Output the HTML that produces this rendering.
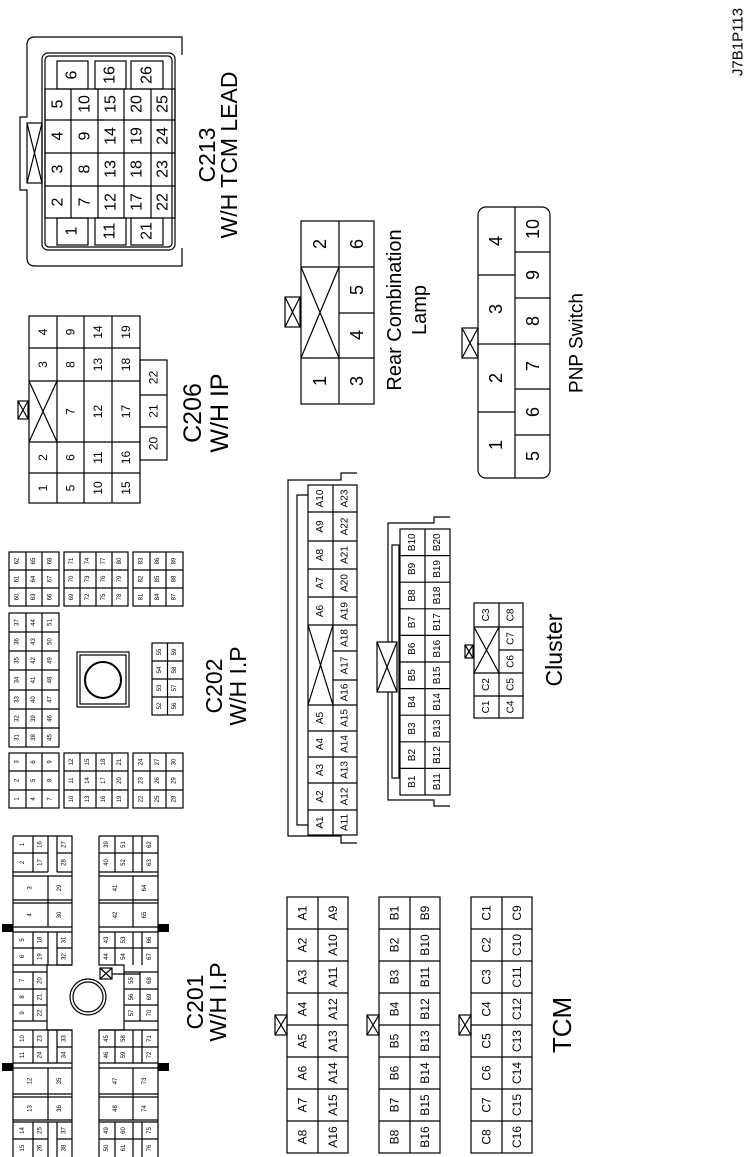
<!DOCTYPE html>
<html><head><meta charset="utf-8"><style>
html,body{margin:0;padding:0;background:#fff;}
svg{display:block;}
text{font-family:"Liberation Sans",Arial,sans-serif;text-anchor:middle;dominant-baseline:central;fill:#000;}
.c rect,.c path,.c line,.c circle{fill:none;stroke:#000;stroke-width:1.2;}
.s text{font-size:6px;}
.m text{font-size:12px;}
.l text{font-size:16px;}
.L{font-size:23px;}
</style></head><body>
<svg width="750" height="1157" viewBox="0 0 750 1157" xmlns="http://www.w3.org/2000/svg">
<g class="c">

<!-- C213 -->
<path d="M182,55 V37 H35 Q27,37 27,45 V117 H20 V190 H27 V258 Q27,266 35,266 H182 V248"/>
<rect x="42" y="53" width="133" height="197" rx="6"/>
<rect x="45" y="56" width="127" height="191" rx="4"/>
<rect x="57" y="61" width="31" height="28"/><rect x="95" y="61" width="31" height="28"/><rect x="131" y="61" width="32" height="28"/>
<rect x="57" y="218" width="31" height="27"/><rect x="95" y="218" width="31" height="27"/><rect x="131" y="218" width="32" height="27"/>
<rect x="45" y="89" width="130" height="129"/>
<path d="M71,89V218M98,89V218M124,89V218M151,89V218M45,120H175M45,153H175M45,186H175"/>
<rect x="27" y="123" width="15" height="60"/><path d="M27,123L42,183M42,123L27,183"/>

<!-- C206 -->
<rect x="29" y="316" width="111" height="187"/>
<path d="M29,348H140M29,381H140M84,442H140M29,442H57M29,473H140M57,316V503M84,316V503M112,316V503M57,442H84"/>
<path d="M29,381L57,442M57,381L29,442"/>
<rect x="140" y="360" width="27" height="100"/><path d="M140,395H167M140,427H167"/>
<rect x="18" y="401" width="10" height="18"/><path d="M18,401L28,419M28,401L18,419"/>

<!-- Rear Combination Lamp -->
<rect x="301" y="221" width="73" height="183"/>
<path d="M339,221V404M301,267H374M339,313H374M301,358H374M301,267L339,358M339,267L301,358"/>
<rect x="285" y="297" width="15" height="30"/><path d="M285,297L300,327M300,297L285,327"/>

<!-- PNP -->
<rect x="478" y="207" width="72" height="271" rx="8"/>
<path d="M515,207V478M478,275H515M478,344H550M478,412H515M515,252H550M515,298H550M515,389H550M515,435H550"/>
<rect x="462" y="328" width="16" height="30"/><path d="M462,328L478,358M478,328L462,358"/>

<!-- C202 -->
<rect x="9" y="753" width="50" height="55"/><path d="M26,753V808M42,753V808M9,771H59M9,790H59"/>
<rect x="64" y="753" width="64" height="55"/><path d="M80,753V808M96,753V808M112,753V808M64,771H128M64,790H128"/>
<rect x="133" y="753" width="50" height="55"/><path d="M150,753V808M166,753V808M133,771H183M133,790H183"/>
<rect x="9" y="613" width="50" height="134"/><path d="M26,613V747M42,613V747M9,632H59M9,651H59M9,670H59M9,690H59M9,709H59M9,728H59"/>
<rect x="77" y="652" width="52" height="55"/><rect x="80" y="655" width="46" height="49"/>
<circle cx="103" cy="680" r="18" style="stroke-width:2"/>
<rect x="152" y="643" width="31" height="72"/><path d="M167.5,643V715M152,661H183M152,679H183M152,697H183"/>
<rect x="9" y="552" width="50" height="54"/><path d="M26,552V606M42,552V606M9,570H59M9,588H59"/>
<rect x="64" y="552" width="64" height="54"/><path d="M80,552V606M96,552V606M112,552V606M64,570H128M64,588H128"/>
<rect x="133" y="552" width="50" height="54"/><path d="M150,552V606M166,552V606M133,570H183M133,588H183"/>

<!-- Cluster A -->
<path d="M357,473H341V480H288V836H341V843H357"/>
<path d="M308,495H297V825H308"/>
<rect x="308" y="485" width="49" height="350"/>
<path d="M333,485V835M308,512H357M308,541H357M308,569H357M308,597H357M308,625H357M333,651H357M333,680H357M308,705H357M308,731H357M308,757H357M308,783H357M308,810H357M308,625L333,705M333,625L308,705"/>
<!-- Cluster B -->
<path d="M450,517H434V523H388V800H434V806H450"/>
<rect x="392" y="545" width="7" height="233"/>
<rect x="400" y="529" width="50" height="266"/>
<path d="M425,529V795M400,555.6H450M400,582.2H450M400,608.8H450M400,635.4H450M400,662H450M400,688.6H450M400,715.2H450M400,741.8H450M400,768.4H450"/>
<rect x="377" y="642" width="20" height="50" style="fill:#fff"/><path d="M377,642L397,692M397,642L377,692"/>
<!-- Cluster C -->
<rect x="474" y="603" width="49" height="115"/>
<path d="M499,603V718M474,627H523M499,650H523M474,673H523M474,696H523M474,627L499,673M499,627L474,673"/>
<rect x="465" y="645" width="8" height="13"/><path d="M465,645L473,658M473,645L465,658"/>

<!-- TCM -->
<rect x="287" y="897" width="61" height="256"/><rect x="379" y="897" width="61" height="256"/><rect x="471" y="897" width="61" height="256"/>
<path d="M318,897V1153M410,897V1153M502,897V1153"/>
<path d="M287,929H348M287,961H348M287,993H348M287,1025H348M287,1057H348M287,1089H348M287,1121H348"/>
<path d="M379,929H440M379,961H440M379,993H440M379,1025H440M379,1057H440M379,1089H440M379,1121H440"/>
<path d="M471,929H532M471,961H532M471,993H532M471,1025H532M471,1057H532M471,1089H532M471,1121H532"/>
<rect x="275" y="1015" width="12" height="20"/><path d="M275,1015L287,1035M287,1015L275,1035"/>
<rect x="367" y="1015" width="12" height="20"/><path d="M367,1015L379,1035M379,1015L367,1035"/>
<rect x="459" y="1015" width="12" height="20"/><path d="M459,1015L471,1035M471,1015L459,1035"/>

<!-- C201 -->
<path d="M13,836H72V965H47V1030H72V1157M13,836V1157M99,836H158V1157M99,836V965H124V1030H99V1157"/>
<path d="M13,853H48M57,853H72M13,872H48M57,872H72M13,876H72M13,900H72M13,903H72M13,927H72M13,932H72M13,948H48M57,948H72M13,965H48M57,965H72M13,972H47M13,989H47M13,1005H47M13,1021H47M13,1030H72M13,1047H48M57,1047H72M13,1063H72M13,1068H72M13,1094H72M13,1097H72M13,1120H72M13,1122H72M13,1139H48M57,1139H72"/>
<path d="M33,836V872M48,836V872M57,836V872M48,876V927M33,932V965M48,932V965M57,932V965M33,972V1021M33,1030V1063M48,1030V1063M57,1030V1063M48,1068V1120M33,1122V1157M48,1122V1157M57,1122V1157"/>
<path d="M99,853H158M99,872H158M99,876H158M99,900H158M99,903H158M99,927H158M99,932H158M99,948H158M124,972H158M124,989H158M124,1005H158M124,1021H158M99,1030H158M99,1047H158M99,1063H158M99,1068H158M99,1094H158M99,1097H158M99,1120H158M99,1122H158M99,1139H158"/>
<path d="M115,836V872M133,836V872M142,836V872M133,876V927M115,932V965M133,932V965M142,932V965M140,972V1021M115,1030V1063M133,1030V1063M142,1030V1063M133,1068V1120M115,1122V1157M133,1122V1157M142,1122V1157"/>
<circle cx="88" cy="997" r="18"/><circle cx="88" cy="997" r="15"/>
<rect x="100" y="968" width="12" height="11"/><path d="M100,968L112,979M112,968L100,979M112,974H140"/>
</g>
<g fill="#000">
<rect x="2" y="924" width="11" height="8"/><rect x="158" y="924" width="11" height="8"/>
<rect x="2" y="1063" width="11" height="8"/><rect x="158" y="1063" width="11" height="8"/>
</g>

<!-- LABELS -->
<text class="L" x="207" y="155" transform="rotate(-90 207 155)">C213</text>
<text class="L" x="229" y="155" transform="rotate(-90 229 155)">W/H TCM LEAD</text>
<text class="L" x="193" y="413" transform="rotate(-90 193 413)" style="font-size:25px">C206</text>
<text class="L" x="220" y="413" transform="rotate(-90 220 413)" style="font-size:25px">W/H IP</text>
<text class="L" x="395" y="310" transform="rotate(-90 395 310)" style="font-size:20px">Rear Combination</text>
<text class="L" x="420" y="310" transform="rotate(-90 420 310)" style="font-size:20px">Lamp</text>
<text class="L" x="577" y="343" transform="rotate(-90 577 343)" style="font-size:19px">PNP Switch</text>
<text class="L" x="214" y="686" transform="rotate(-90 214 686)">C202</text>
<text class="L" x="238" y="686" transform="rotate(-90 238 686)">W/H I.P</text>
<text class="L" x="195" y="1002" transform="rotate(-90 195 1002)">C201</text>
<text class="L" x="218" y="1002" transform="rotate(-90 218 1002)">W/H I.P</text>
<text class="L" x="554" y="650" transform="rotate(-90 554 650)">Cluster</text>
<text class="L" x="562" y="1025" transform="rotate(-90 562 1025)" style="font-size:26px">TCM</text>
<text x="738" y="42" transform="rotate(-90 738 42)" style="font-size:15px">J7B1P113</text>

<g class="l">
<!-- C213 -->
<text x="72" y="75" transform="rotate(-90 72 75)">6</text><text x="110" y="75" transform="rotate(-90 110 75)">16</text><text x="147" y="75" transform="rotate(-90 147 75)">26</text>
<text x="72" y="231" transform="rotate(-90 72 231)">1</text><text x="110" y="231" transform="rotate(-90 110 231)">11</text><text x="147" y="231" transform="rotate(-90 147 231)">21</text>
<text x="58" y="104" transform="rotate(-90 58 104)">5</text><text x="85" y="104" transform="rotate(-90 85 104)">10</text><text x="111" y="104" transform="rotate(-90 111 104)">15</text><text x="137" y="104" transform="rotate(-90 137 104)">20</text><text x="163" y="104" transform="rotate(-90 163 104)">25</text>
<text x="58" y="136" transform="rotate(-90 58 136)">4</text><text x="85" y="136" transform="rotate(-90 85 136)">9</text><text x="111" y="136" transform="rotate(-90 111 136)">14</text><text x="137" y="136" transform="rotate(-90 137 136)">19</text><text x="163" y="136" transform="rotate(-90 163 136)">24</text>
<text x="58" y="169" transform="rotate(-90 58 169)">3</text><text x="85" y="169" transform="rotate(-90 85 169)">8</text><text x="111" y="169" transform="rotate(-90 111 169)">13</text><text x="137" y="169" transform="rotate(-90 137 169)">18</text><text x="163" y="169" transform="rotate(-90 163 169)">23</text>
<text x="58" y="202" transform="rotate(-90 58 202)">2</text><text x="85" y="202" transform="rotate(-90 85 202)">7</text><text x="111" y="202" transform="rotate(-90 111 202)">12</text><text x="137" y="202" transform="rotate(-90 137 202)">17</text><text x="163" y="202" transform="rotate(-90 163 202)">22</text>
<!-- Rear -->
<text x="320" y="244" transform="rotate(-90 320 244)" style="font-size:18px">2</text><text x="357" y="244" transform="rotate(-90 357 244)" style="font-size:18px">6</text>
<text x="357" y="290" transform="rotate(-90 357 290)" style="font-size:18px">5</text><text x="357" y="335" transform="rotate(-90 357 335)" style="font-size:18px">4</text>
<text x="320" y="381" transform="rotate(-90 320 381)" style="font-size:18px">1</text><text x="357" y="381" transform="rotate(-90 357 381)" style="font-size:18px">3</text>
<!-- PNP -->
<text x="496" y="241" transform="rotate(-90 496 241)" style="font-size:18px">4</text><text x="496" y="309" transform="rotate(-90 496 309)" style="font-size:18px">3</text><text x="496" y="378" transform="rotate(-90 496 378)" style="font-size:18px">2</text><text x="496" y="445" transform="rotate(-90 496 445)" style="font-size:18px">1</text>
<text x="533" y="229" transform="rotate(-90 533 229)" style="font-size:18px">10</text><text x="533" y="275" transform="rotate(-90 533 275)" style="font-size:18px">9</text><text x="533" y="321" transform="rotate(-90 533 321)" style="font-size:18px">8</text><text x="533" y="366" transform="rotate(-90 533 366)" style="font-size:18px">7</text><text x="533" y="412" transform="rotate(-90 533 412)" style="font-size:18px">6</text><text x="533" y="456" transform="rotate(-90 533 456)" style="font-size:18px">5</text>
</g>
<g class="m">
<!-- C206 -->
<text x="43" y="332" transform="rotate(-90 43 332)">4</text><text x="70.5" y="332" transform="rotate(-90 70.5 332)">9</text><text x="98" y="332" transform="rotate(-90 98 332)">14</text><text x="126" y="332" transform="rotate(-90 126 332)">19</text>
<text x="43" y="364.5" transform="rotate(-90 43 364.5)">3</text><text x="70.5" y="364.5" transform="rotate(-90 70.5 364.5)">8</text><text x="98" y="364.5" transform="rotate(-90 98 364.5)">13</text><text x="126" y="364.5" transform="rotate(-90 126 364.5)">18</text>
<text x="70.5" y="411.5" transform="rotate(-90 70.5 411.5)">7</text><text x="98" y="411.5" transform="rotate(-90 98 411.5)">12</text><text x="126" y="411.5" transform="rotate(-90 126 411.5)">17</text>
<text x="43" y="457.5" transform="rotate(-90 43 457.5)">2</text><text x="70.5" y="457.5" transform="rotate(-90 70.5 457.5)">6</text><text x="98" y="457.5" transform="rotate(-90 98 457.5)">11</text><text x="126" y="457.5" transform="rotate(-90 126 457.5)">16</text>
<text x="43" y="488" transform="rotate(-90 43 488)">1</text><text x="70.5" y="488" transform="rotate(-90 70.5 488)">5</text><text x="98" y="488" transform="rotate(-90 98 488)">10</text><text x="126" y="488" transform="rotate(-90 126 488)">15</text>
<text x="153.5" y="377.5" transform="rotate(-90 153.5 377.5)">22</text><text x="153.5" y="411" transform="rotate(-90 153.5 411)">21</text><text x="153.5" y="443.5" transform="rotate(-90 153.5 443.5)">20</text>
<!-- TCM A -->
<text x="302.5" y="913" transform="rotate(-90 302.5 913)">A1</text><text x="302.5" y="945" transform="rotate(-90 302.5 945)">A2</text><text x="302.5" y="977" transform="rotate(-90 302.5 977)">A3</text><text x="302.5" y="1009" transform="rotate(-90 302.5 1009)">A4</text><text x="302.5" y="1041" transform="rotate(-90 302.5 1041)">A5</text><text x="302.5" y="1073" transform="rotate(-90 302.5 1073)">A6</text><text x="302.5" y="1105" transform="rotate(-90 302.5 1105)">A7</text><text x="302.5" y="1137" transform="rotate(-90 302.5 1137)">A8</text>
<text x="333" y="913" transform="rotate(-90 333 913)">A9</text><text x="333" y="945" transform="rotate(-90 333 945)">A10</text><text x="333" y="977" transform="rotate(-90 333 977)">A11</text><text x="333" y="1009" transform="rotate(-90 333 1009)">A12</text><text x="333" y="1041" transform="rotate(-90 333 1041)">A13</text><text x="333" y="1073" transform="rotate(-90 333 1073)">A14</text><text x="333" y="1105" transform="rotate(-90 333 1105)">A15</text><text x="333" y="1137" transform="rotate(-90 333 1137)">A16</text>
<!-- TCM B -->
<text x="394.5" y="913" transform="rotate(-90 394.5 913)">B1</text><text x="394.5" y="945" transform="rotate(-90 394.5 945)">B2</text><text x="394.5" y="977" transform="rotate(-90 394.5 977)">B3</text><text x="394.5" y="1009" transform="rotate(-90 394.5 1009)">B4</text><text x="394.5" y="1041" transform="rotate(-90 394.5 1041)">B5</text><text x="394.5" y="1073" transform="rotate(-90 394.5 1073)">B6</text><text x="394.5" y="1105" transform="rotate(-90 394.5 1105)">B7</text><text x="394.5" y="1137" transform="rotate(-90 394.5 1137)">B8</text>
<text x="425" y="913" transform="rotate(-90 425 913)">B9</text><text x="425" y="945" transform="rotate(-90 425 945)">B10</text><text x="425" y="977" transform="rotate(-90 425 977)">B11</text><text x="425" y="1009" transform="rotate(-90 425 1009)">B12</text><text x="425" y="1041" transform="rotate(-90 425 1041)">B13</text><text x="425" y="1073" transform="rotate(-90 425 1073)">B14</text><text x="425" y="1105" transform="rotate(-90 425 1105)">B15</text><text x="425" y="1137" transform="rotate(-90 425 1137)">B16</text>
<!-- TCM C -->
<text x="486.5" y="913" transform="rotate(-90 486.5 913)">C1</text><text x="486.5" y="945" transform="rotate(-90 486.5 945)">C2</text><text x="486.5" y="977" transform="rotate(-90 486.5 977)">C3</text><text x="486.5" y="1009" transform="rotate(-90 486.5 1009)">C4</text><text x="486.5" y="1041" transform="rotate(-90 486.5 1041)">C5</text><text x="486.5" y="1073" transform="rotate(-90 486.5 1073)">C6</text><text x="486.5" y="1105" transform="rotate(-90 486.5 1105)">C7</text><text x="486.5" y="1137" transform="rotate(-90 486.5 1137)">C8</text>
<text x="517" y="913" transform="rotate(-90 517 913)">C9</text><text x="517" y="945" transform="rotate(-90 517 945)">C10</text><text x="517" y="977" transform="rotate(-90 517 977)">C11</text><text x="517" y="1009" transform="rotate(-90 517 1009)">C12</text><text x="517" y="1041" transform="rotate(-90 517 1041)">C13</text><text x="517" y="1073" transform="rotate(-90 517 1073)">C14</text><text x="517" y="1105" transform="rotate(-90 517 1105)">C15</text><text x="517" y="1137" transform="rotate(-90 517 1137)">C16</text>
</g>
<g style="font-size:10px">
<!-- Cluster A -->
<text x="320.5" y="498.5" transform="rotate(-90 320.5 498.5)">A10</text><text x="320.5" y="526.5" transform="rotate(-90 320.5 526.5)">A9</text><text x="320.5" y="555" transform="rotate(-90 320.5 555)">A8</text><text x="320.5" y="583" transform="rotate(-90 320.5 583)">A7</text><text x="320.5" y="611" transform="rotate(-90 320.5 611)">A6</text><text x="320.5" y="718" transform="rotate(-90 320.5 718)">A5</text><text x="320.5" y="744" transform="rotate(-90 320.5 744)">A4</text><text x="320.5" y="770" transform="rotate(-90 320.5 770)">A3</text><text x="320.5" y="796.5" transform="rotate(-90 320.5 796.5)">A2</text><text x="320.5" y="822.5" transform="rotate(-90 320.5 822.5)">A1</text>
<text x="345" y="498.5" transform="rotate(-90 345 498.5)">A23</text><text x="345" y="526.5" transform="rotate(-90 345 526.5)">A22</text><text x="345" y="555" transform="rotate(-90 345 555)">A21</text><text x="345" y="583" transform="rotate(-90 345 583)">A20</text><text x="345" y="611" transform="rotate(-90 345 611)">A19</text><text x="345" y="638" transform="rotate(-90 345 638)">A18</text><text x="345" y="665.5" transform="rotate(-90 345 665.5)">A17</text><text x="345" y="692.5" transform="rotate(-90 345 692.5)">A16</text><text x="345" y="718" transform="rotate(-90 345 718)">A15</text><text x="345" y="744" transform="rotate(-90 345 744)">A14</text><text x="345" y="770" transform="rotate(-90 345 770)">A13</text><text x="345" y="796.5" transform="rotate(-90 345 796.5)">A12</text><text x="345" y="822.5" transform="rotate(-90 345 822.5)">A11</text>
<!-- Cluster B -->
<text x="412.5" y="542.3" transform="rotate(-90 412.5 542.3)">B10</text><text x="412.5" y="568.9" transform="rotate(-90 412.5 568.9)">B9</text><text x="412.5" y="595.5" transform="rotate(-90 412.5 595.5)">B8</text><text x="412.5" y="622.1" transform="rotate(-90 412.5 622.1)">B7</text><text x="412.5" y="648.7" transform="rotate(-90 412.5 648.7)">B6</text><text x="412.5" y="675.3" transform="rotate(-90 412.5 675.3)">B5</text><text x="412.5" y="701.9" transform="rotate(-90 412.5 701.9)">B4</text><text x="412.5" y="728.5" transform="rotate(-90 412.5 728.5)">B3</text><text x="412.5" y="755.1" transform="rotate(-90 412.5 755.1)">B2</text><text x="412.5" y="781.7" transform="rotate(-90 412.5 781.7)">B1</text>
<text x="437.5" y="542.3" transform="rotate(-90 437.5 542.3)">B20</text><text x="437.5" y="568.9" transform="rotate(-90 437.5 568.9)">B19</text><text x="437.5" y="595.5" transform="rotate(-90 437.5 595.5)">B18</text><text x="437.5" y="622.1" transform="rotate(-90 437.5 622.1)">B17</text><text x="437.5" y="648.7" transform="rotate(-90 437.5 648.7)">B16</text><text x="437.5" y="675.3" transform="rotate(-90 437.5 675.3)">B15</text><text x="437.5" y="701.9" transform="rotate(-90 437.5 701.9)">B14</text><text x="437.5" y="728.5" transform="rotate(-90 437.5 728.5)">B13</text><text x="437.5" y="755.1" transform="rotate(-90 437.5 755.1)">B12</text><text x="437.5" y="781.7" transform="rotate(-90 437.5 781.7)">B11</text>
<!-- Cluster C -->
<text x="486.5" y="615" transform="rotate(-90 486.5 615)">C3</text><text x="486.5" y="684.5" transform="rotate(-90 486.5 684.5)">C2</text><text x="486.5" y="707" transform="rotate(-90 486.5 707)">C1</text>
<text x="511" y="615" transform="rotate(-90 511 615)">C8</text><text x="511" y="638.5" transform="rotate(-90 511 638.5)">C7</text><text x="511" y="661.5" transform="rotate(-90 511 661.5)">C6</text><text x="511" y="684.5" transform="rotate(-90 511 684.5)">C5</text><text x="511" y="707" transform="rotate(-90 511 707)">C4</text>
</g>
<g class="s">
<!-- C202 -->
<text x="17.5" y="762" transform="rotate(-90 17.5 762)">3</text><text x="17.5" y="780.5" transform="rotate(-90 17.5 780.5)">2</text><text x="17.5" y="799" transform="rotate(-90 17.5 799)">1</text>
<text x="34" y="762" transform="rotate(-90 34 762)">6</text><text x="34" y="780.5" transform="rotate(-90 34 780.5)">5</text><text x="34" y="799" transform="rotate(-90 34 799)">4</text>
<text x="50.5" y="762" transform="rotate(-90 50.5 762)">9</text><text x="50.5" y="780.5" transform="rotate(-90 50.5 780.5)">8</text><text x="50.5" y="799" transform="rotate(-90 50.5 799)">7</text>
<text x="72" y="762" transform="rotate(-90 72 762)">12</text><text x="72" y="780.5" transform="rotate(-90 72 780.5)">11</text><text x="72" y="799" transform="rotate(-90 72 799)">10</text>
<text x="88" y="762" transform="rotate(-90 88 762)">15</text><text x="88" y="780.5" transform="rotate(-90 88 780.5)">14</text><text x="88" y="799" transform="rotate(-90 88 799)">13</text>
<text x="104" y="762" transform="rotate(-90 104 762)">18</text><text x="104" y="780.5" transform="rotate(-90 104 780.5)">17</text><text x="104" y="799" transform="rotate(-90 104 799)">16</text>
<text x="120" y="762" transform="rotate(-90 120 762)">21</text><text x="120" y="780.5" transform="rotate(-90 120 780.5)">20</text><text x="120" y="799" transform="rotate(-90 120 799)">19</text>
<text x="141.5" y="762" transform="rotate(-90 141.5 762)">24</text><text x="141.5" y="780.5" transform="rotate(-90 141.5 780.5)">23</text><text x="141.5" y="799" transform="rotate(-90 141.5 799)">22</text>
<text x="158" y="762" transform="rotate(-90 158 762)">27</text><text x="158" y="780.5" transform="rotate(-90 158 780.5)">26</text><text x="158" y="799" transform="rotate(-90 158 799)">25</text>
<text x="174.5" y="762" transform="rotate(-90 174.5 762)">30</text><text x="174.5" y="780.5" transform="rotate(-90 174.5 780.5)">29</text><text x="174.5" y="799" transform="rotate(-90 174.5 799)">28</text>
<text x="17.5" y="622.5" transform="rotate(-90 17.5 622.5)">37</text><text x="17.5" y="641.5" transform="rotate(-90 17.5 641.5)">36</text><text x="17.5" y="660.5" transform="rotate(-90 17.5 660.5)">35</text><text x="17.5" y="680" transform="rotate(-90 17.5 680)">34</text><text x="17.5" y="699.5" transform="rotate(-90 17.5 699.5)">33</text><text x="17.5" y="718.5" transform="rotate(-90 17.5 718.5)">32</text><text x="17.5" y="737.5" transform="rotate(-90 17.5 737.5)">31</text>
<text x="34" y="622.5" transform="rotate(-90 34 622.5)">44</text><text x="34" y="641.5" transform="rotate(-90 34 641.5)">43</text><text x="34" y="660.5" transform="rotate(-90 34 660.5)">42</text><text x="34" y="680" transform="rotate(-90 34 680)">41</text><text x="34" y="699.5" transform="rotate(-90 34 699.5)">40</text><text x="34" y="718.5" transform="rotate(-90 34 718.5)">39</text><text x="34" y="737.5" transform="rotate(-90 34 737.5)">38</text>
<text x="50.5" y="622.5" transform="rotate(-90 50.5 622.5)">51</text><text x="50.5" y="641.5" transform="rotate(-90 50.5 641.5)">50</text><text x="50.5" y="660.5" transform="rotate(-90 50.5 660.5)">49</text><text x="50.5" y="680" transform="rotate(-90 50.5 680)">48</text><text x="50.5" y="699.5" transform="rotate(-90 50.5 699.5)">47</text><text x="50.5" y="718.5" transform="rotate(-90 50.5 718.5)">46</text><text x="50.5" y="737.5" transform="rotate(-90 50.5 737.5)">45</text>
<text x="160" y="652" transform="rotate(-90 160 652)">55</text><text x="160" y="670" transform="rotate(-90 160 670)">54</text><text x="160" y="688" transform="rotate(-90 160 688)">53</text><text x="160" y="706" transform="rotate(-90 160 706)">52</text>
<text x="175" y="652" transform="rotate(-90 175 652)">59</text><text x="175" y="670" transform="rotate(-90 175 670)">58</text><text x="175" y="688" transform="rotate(-90 175 688)">57</text><text x="175" y="706" transform="rotate(-90 175 706)">56</text>
<text x="17.5" y="561" transform="rotate(-90 17.5 561)">62</text><text x="17.5" y="579" transform="rotate(-90 17.5 579)">61</text><text x="17.5" y="597" transform="rotate(-90 17.5 597)">60</text>
<text x="34" y="561" transform="rotate(-90 34 561)">65</text><text x="34" y="579" transform="rotate(-90 34 579)">64</text><text x="34" y="597" transform="rotate(-90 34 597)">63</text>
<text x="50.5" y="561" transform="rotate(-90 50.5 561)">68</text><text x="50.5" y="579" transform="rotate(-90 50.5 579)">67</text><text x="50.5" y="597" transform="rotate(-90 50.5 597)">66</text>
<text x="72" y="561" transform="rotate(-90 72 561)">71</text><text x="72" y="579" transform="rotate(-90 72 579)">70</text><text x="72" y="597" transform="rotate(-90 72 597)">69</text>
<text x="88" y="561" transform="rotate(-90 88 561)">74</text><text x="88" y="579" transform="rotate(-90 88 579)">73</text><text x="88" y="597" transform="rotate(-90 88 597)">72</text>
<text x="104" y="561" transform="rotate(-90 104 561)">77</text><text x="104" y="579" transform="rotate(-90 104 579)">76</text><text x="104" y="597" transform="rotate(-90 104 597)">75</text>
<text x="120" y="561" transform="rotate(-90 120 561)">80</text><text x="120" y="579" transform="rotate(-90 120 579)">79</text><text x="120" y="597" transform="rotate(-90 120 597)">78</text>
<text x="141.5" y="561" transform="rotate(-90 141.5 561)">83</text><text x="141.5" y="579" transform="rotate(-90 141.5 579)">82</text><text x="141.5" y="597" transform="rotate(-90 141.5 597)">81</text>
<text x="158" y="561" transform="rotate(-90 158 561)">86</text><text x="158" y="579" transform="rotate(-90 158 579)">85</text><text x="158" y="597" transform="rotate(-90 158 597)">84</text>
<text x="174.5" y="561" transform="rotate(-90 174.5 561)">89</text><text x="174.5" y="579" transform="rotate(-90 174.5 579)">88</text><text x="174.5" y="597" transform="rotate(-90 174.5 597)">87</text>
<!-- C201 -->
<text x="23" y="844.5" transform="rotate(-90 23 844.5)">1</text><text x="23" y="862.5" transform="rotate(-90 23 862.5)">2</text><text x="30.5" y="888" transform="rotate(-90 30.5 888)">3</text><text x="30.5" y="915" transform="rotate(-90 30.5 915)">4</text><text x="23" y="940" transform="rotate(-90 23 940)">5</text><text x="23" y="956.5" transform="rotate(-90 23 956.5)">6</text><text x="23" y="980.5" transform="rotate(-90 23 980.5)">7</text><text x="23" y="997" transform="rotate(-90 23 997)">8</text><text x="23" y="1013" transform="rotate(-90 23 1013)">9</text><text x="23" y="1038.5" transform="rotate(-90 23 1038.5)">10</text><text x="23" y="1055" transform="rotate(-90 23 1055)">11</text><text x="30.5" y="1081" transform="rotate(-90 30.5 1081)">12</text><text x="30.5" y="1108.5" transform="rotate(-90 30.5 1108.5)">13</text><text x="23" y="1130.5" transform="rotate(-90 23 1130.5)">14</text><text x="23" y="1148" transform="rotate(-90 23 1148)">15</text>
<text x="40.5" y="844.5" transform="rotate(-90 40.5 844.5)">16</text><text x="40.5" y="862.5" transform="rotate(-90 40.5 862.5)">17</text><text x="40.5" y="940" transform="rotate(-90 40.5 940)">18</text><text x="40.5" y="956.5" transform="rotate(-90 40.5 956.5)">19</text><text x="40.5" y="980.5" transform="rotate(-90 40.5 980.5)">20</text><text x="40.5" y="997" transform="rotate(-90 40.5 997)">21</text><text x="40.5" y="1013" transform="rotate(-90 40.5 1013)">22</text><text x="40.5" y="1038.5" transform="rotate(-90 40.5 1038.5)">23</text><text x="40.5" y="1055" transform="rotate(-90 40.5 1055)">24</text><text x="40.5" y="1130.5" transform="rotate(-90 40.5 1130.5)">25</text><text x="40.5" y="1148" transform="rotate(-90 40.5 1148)">26</text>
<text x="64.5" y="844.5" transform="rotate(-90 64.5 844.5)">27</text><text x="64.5" y="862.5" transform="rotate(-90 64.5 862.5)">28</text><text x="60" y="888" transform="rotate(-90 60 888)">29</text><text x="60" y="915" transform="rotate(-90 60 915)">30</text><text x="64.5" y="940" transform="rotate(-90 64.5 940)">31</text><text x="64.5" y="956.5" transform="rotate(-90 64.5 956.5)">32</text><text x="64.5" y="1038.5" transform="rotate(-90 64.5 1038.5)">33</text><text x="64.5" y="1055" transform="rotate(-90 64.5 1055)">34</text><text x="60" y="1081" transform="rotate(-90 60 1081)">35</text><text x="60" y="1108.5" transform="rotate(-90 60 1108.5)">36</text><text x="64.5" y="1130.5" transform="rotate(-90 64.5 1130.5)">37</text><text x="64.5" y="1148" transform="rotate(-90 64.5 1148)">38</text>
<text x="107" y="844.5" transform="rotate(-90 107 844.5)">39</text><text x="107" y="862.5" transform="rotate(-90 107 862.5)">40</text><text x="116" y="888" transform="rotate(-90 116 888)">41</text><text x="116" y="915" transform="rotate(-90 116 915)">42</text><text x="107" y="940" transform="rotate(-90 107 940)">43</text><text x="107" y="956.5" transform="rotate(-90 107 956.5)">44</text><text x="107" y="1038.5" transform="rotate(-90 107 1038.5)">45</text><text x="107" y="1055" transform="rotate(-90 107 1055)">46</text><text x="116" y="1081" transform="rotate(-90 116 1081)">47</text><text x="116" y="1108.5" transform="rotate(-90 116 1108.5)">48</text><text x="107" y="1130.5" transform="rotate(-90 107 1130.5)">49</text><text x="107" y="1148" transform="rotate(-90 107 1148)">50</text>
<text x="124" y="844.5" transform="rotate(-90 124 844.5)">51</text><text x="124" y="862.5" transform="rotate(-90 124 862.5)">52</text><text x="124" y="940" transform="rotate(-90 124 940)">53</text><text x="124" y="956.5" transform="rotate(-90 124 956.5)">54</text><text x="132" y="980.5" transform="rotate(-90 132 980.5)">55</text><text x="132" y="997" transform="rotate(-90 132 997)">56</text><text x="132" y="1013" transform="rotate(-90 132 1013)">57</text><text x="124" y="1038.5" transform="rotate(-90 124 1038.5)">58</text><text x="124" y="1055" transform="rotate(-90 124 1055)">59</text><text x="124" y="1130.5" transform="rotate(-90 124 1130.5)">60</text><text x="124" y="1148" transform="rotate(-90 124 1148)">61</text>
<text x="150" y="844.5" transform="rotate(-90 150 844.5)">62</text><text x="150" y="862.5" transform="rotate(-90 150 862.5)">63</text><text x="145" y="888" transform="rotate(-90 145 888)">64</text><text x="145" y="915" transform="rotate(-90 145 915)">65</text><text x="150" y="940" transform="rotate(-90 150 940)">66</text><text x="150" y="956.5" transform="rotate(-90 150 956.5)">67</text><text x="150" y="980.5" transform="rotate(-90 150 980.5)">68</text><text x="150" y="997" transform="rotate(-90 150 997)">69</text><text x="150" y="1013" transform="rotate(-90 150 1013)">70</text><text x="150" y="1038.5" transform="rotate(-90 150 1038.5)">71</text><text x="150" y="1055" transform="rotate(-90 150 1055)">72</text><text x="145" y="1081" transform="rotate(-90 145 1081)">73</text><text x="145" y="1108.5" transform="rotate(-90 145 1108.5)">74</text><text x="150" y="1130.5" transform="rotate(-90 150 1130.5)">75</text><text x="150" y="1148" transform="rotate(-90 150 1148)">76</text>
</g>
</svg>
</body></html>
